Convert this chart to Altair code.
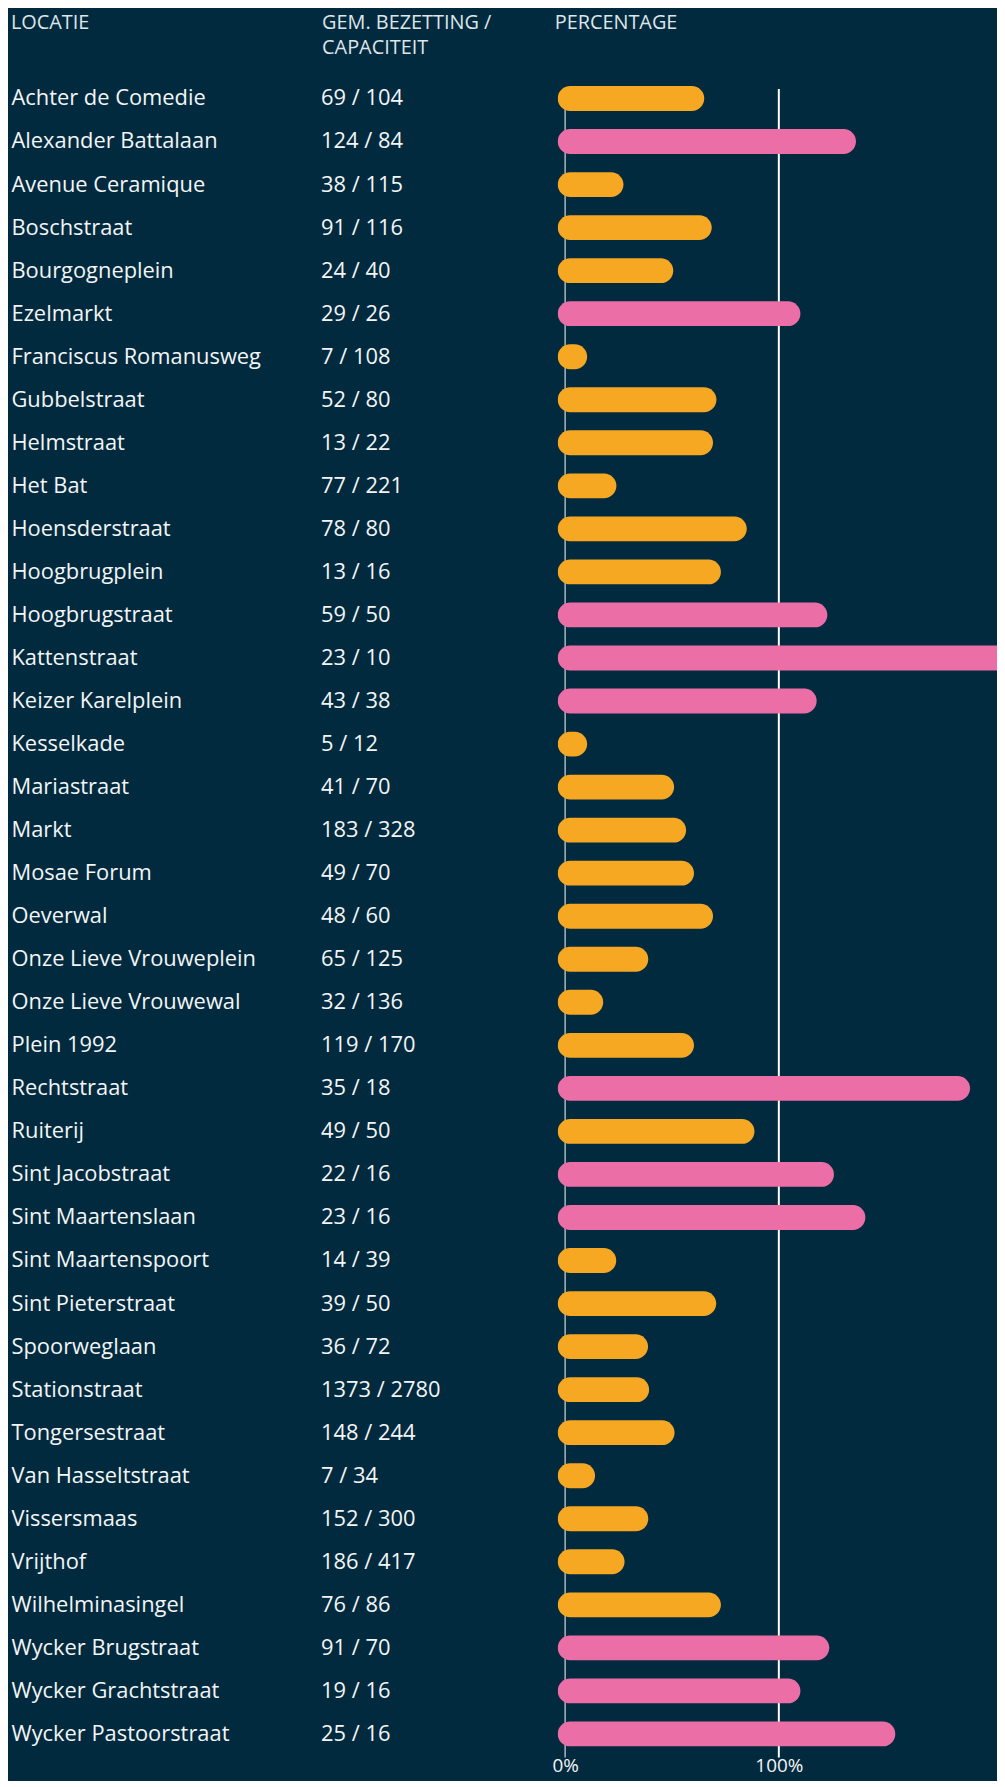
import altair as alt
import pandas as pd

# ---- data ----
locaties = [
    "Achter de Comedie", "Alexander Battalaan", "Avenue Ceramique", "Boschstraat",
    "Bourgogneplein", "Ezelmarkt", "Franciscus Romanusweg", "Gubbelstraat",
    "Helmstraat", "Het Bat", "Hoensderstraat", "Hoogbrugplein", "Hoogbrugstraat",
    "Kattenstraat", "Keizer Karelplein", "Kesselkade", "Mariastraat", "Markt",
    "Mosae Forum", "Oeverwal", "Onze Lieve Vrouweplein", "Onze Lieve Vrouwewal",
    "Plein 1992", "Rechtstraat", "Ruiterij", "Sint Jacobstraat", "Sint Maartenslaan",
    "Sint Maartenspoort", "Sint Pieterstraat", "Spoorweglaan", "Stationstraat",
    "Tongersestraat", "Van Hasseltstraat", "Vissersmaas", "Vrijthof",
    "Wilhelminasingel", "Wycker Brugstraat", "Wycker Grachtstraat", "Wycker Pastoorstraat",
]
bezetting = [69, 124, 38, 91, 24, 29, 7, 52, 13, 77, 78, 13, 59, 23, 43, 5, 41, 183, 49, 48,
             65, 32, 119, 35, 49, 22, 23, 14, 39, 36, 1373, 148, 7, 152, 186, 76, 91, 19, 25]
capaciteit = [104, 84, 115, 116, 40, 26, 108, 80, 22, 221, 80, 16, 50, 10, 38, 12, 70, 328, 70, 60,
              125, 136, 170, 18, 50, 16, 16, 39, 50, 72, 2780, 244, 34, 300, 417, 86, 70, 16, 16]
percentage = [65.1, 136.1, 27.3, 68.6, 50.6, 110.1, 10.3, 70.8, 69.2, 24.0,
              85.0, 72.9, 122.7, 209.0, 117.7, 10.3, 51.0, 56.6, 60.3, 69.2,
              38.9, 17.8, 60.3, 189.5, 88.6, 125.8, 140.5, 23.9, 70.7, 38.8,
              39.3, 51.2, 14.0, 38.9, 27.8, 72.9, 123.6, 110.1, 154.5]
ref_nul = [0]
ref_honderd = [100]
as_waarden = [0, 100]

df = pd.DataFrame({
    "locatie": locaties,
    "bezetting": bezetting,
    "capaciteit": capaciteit,
    "pct": percentage,
})
df["label"] = [f"{b} / {c}" for b, c in zip(bezetting, capaciteit)]

# ---- style ----
FONT = "Open Sans"
BG = "#022a3e"
TEXT = "#f3f5f6"
HEAD = "#dfe5e9"
ORANGE = "#f6a823"
PINK = "#ec6ea7"
GREY = "#a9b7bf"

N = len(locaties)
STEP = 43.3
H = round(N * STEP, 1)

y_text = alt.Y("locatie:N", sort=locaties, axis=None,
               scale=alt.Scale(type="point", padding=0.5))

names = alt.Chart(df).mark_text(
    align="left", baseline="middle", font=FONT, fontSize=22, color=TEXT
).encode(
    x=alt.value(3.5), y=y_text, text="locatie:N"
).properties(
    width=310, height=H,
    title=alt.TitleParams("LOCATIE", subtitle=" ", dx=3, frame="group"),
)

numbers = alt.Chart(df).mark_text(
    align="left", baseline="middle", font=FONT, fontSize=22, color=TEXT
).encode(
    x=alt.value(5), y=y_text, text="label:N"
).properties(
    width=237, height=H,
    title=alt.TitleParams("GEM. BEZETTING /", subtitle="CAPACITEIT", dx=6, frame="group"),
)

xscale = alt.Scale(domain=[-3.5, 202.1], nice=False, zero=False)
x_axis = alt.Axis(values=as_waarden, labelExpr="datum.value + '%'",
                  domain=False, ticks=False, grid=False,
                  labelFlush=False, labelOverlap=False,
                  labelFont=FONT, labelFontSize=19, labelColor=TEXT,
                  labelPadding=0, offset=1, title=None)

rule0 = alt.Chart(pd.DataFrame({"v": ref_nul})).mark_rule(
    color=GREY, strokeWidth=1.5
).encode(
    x=alt.X("v:Q", scale=xscale, axis=x_axis),
    y=alt.value(12), y2=alt.value(H + 2),
)
rule100 = alt.Chart(pd.DataFrame({"v": ref_honderd})).mark_rule(
    color="#ffffff", strokeWidth=2
).encode(
    x=alt.X("v:Q", scale=xscale, axis=x_axis),
    y=alt.value(12), y2=alt.value(H + 2),
)

bars = alt.Chart(df).mark_bar(
    size=25, cornerRadius=12.5, x2Offset=-7.5, clip=True
).encode(
    x=alt.X("pct:Q", scale=xscale, axis=x_axis),
    x2=alt.datum(0),
    y=alt.Y("locatie:N", sort=locaties, axis=None,
            scale=alt.Scale(paddingInner=0, paddingOuter=0)),
    color=alt.condition("datum.pct > 100", alt.value(PINK), alt.value(ORANGE)),
)

pct_panel = alt.layer(rule0, rule100, bars).properties(
    width=442, height=H,
    title=alt.TitleParams("PERCENTAGE", subtitle=" ", dx=-3, frame="group"),
)

chart = alt.hconcat(names, numbers, pct_panel, spacing=0).resolve_scale(
    y="independent"
).properties(
    padding=0, background=BG
).configure_view(
    stroke=None
).configure_axis(
    labelFont=FONT, labelFontSize=19, labelColor=TEXT
).configure_title(
    font=FONT, fontSize=20, fontWeight="normal", color=HEAD, anchor="start",
    subtitleFont=FONT, subtitleFontSize=20, subtitleFontWeight="normal",
    subtitleColor=HEAD, subtitlePadding=5, offset=19,
)

chart.save("out.html", embed_options={"renderer": "svg", "actions": False})
